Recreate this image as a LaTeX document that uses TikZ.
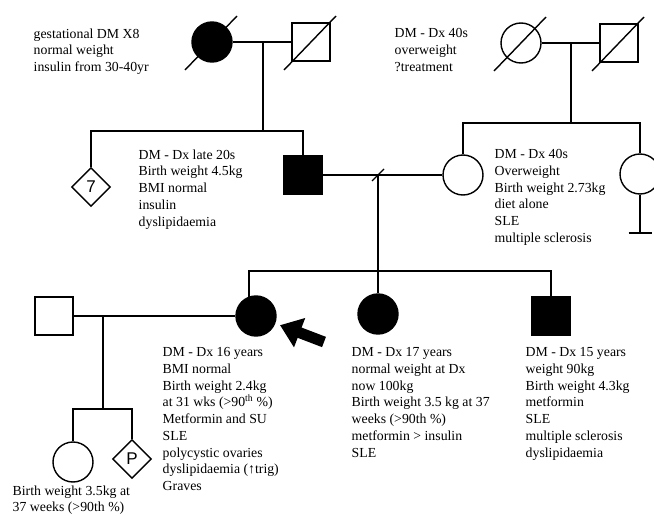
\documentclass[tikz,border=0pt]{standalone}
\usepackage{fontspec}
\setmainfont{Liberation Serif}
\newfontfamily\arialfont{Liberation Sans}
\usetikzlibrary{arrows.meta,shapes.geometric}

% slash through a deceased person
\newcommand\deadslash[1]{\draw ([shift={(-27,28)}]#1.center) -- ([shift={(25,-26)}]#1.center);}

\begin{document}
\begin{tikzpicture}[
    x=1pt, y=-1pt, line width=1.4pt,
    fem/.style={circle, draw, minimum size=40pt, inner sep=0pt},
    mal/.style={rectangle, draw, minimum size=38pt, inner sep=0pt},
    unk/.style={diamond, draw, minimum size=39pt, inner sep=0pt, font=\arialfont\fontsize{17}{17}\selectfont},
    aff/.style={fill=black},
    info/.style={anchor=north west, align=left, inner sep=0pt, font=\fontsize{13.8}{16.7}\selectfont},
    probarrow/.style={line width=11pt, -{Triangle[length=21pt, width=30pt]}}
]
\useasboundingbox (0,0) rectangle (654,516);

% grandparents
\node[fem, aff] (pgm) at (212,42) {};
\node[mal] (pgf) at (311,42) {};
\node[fem] (mgm) at (521,43) {};
\node[mal] (mgf) at (619,43) {};
\deadslash{pgm}
\deadslash{pgf}
\deadslash{mgm}
\deadslash{mgf}
\draw (pgm) -- (pgf);
\draw (mgm) -- (mgf);
\coordinate (pc) at (263,42);
\coordinate (ps) at (263,131);
\draw (pc) -- (ps);
\coordinate (mc) at (571,43);
\coordinate (ms) at (571,123);
\draw (mc) -- (ms);

% parents
\node[unk] (psib) at (91,187) {7};
\node[mal, aff] (fa) at (303,175) {};
\node[fem] (mo) at (463,175) {};
\node[fem] (aunt) at (640,174) {};
\draw (psib.north) |- (ps) -| (fa.north);
\draw (mo.north) |- (ms) -| (aunt.north);
\draw (fa) -- (mo);
\coordinate (nokids) at (640,233);
\draw (aunt.south) -- (nokids);
\draw ([xshift=-11.5pt]nokids) -- ([xshift=11.5pt]nokids);
\coordinate (fc) at (378,175);
\coordinate (fs) at (378,271);
\draw ([shift={(-6,6)}]fc) -- ([shift={(6,-6)}]fc);
\draw (fc) -- (fs);

% proband and siblings
\node[fem, aff] (pb) at (256,316) {};
\node[fem, aff] (sis) at (378,314) {};
\node[mal, aff] (bro) at (551,316) {};
\node[mal] (hus) at (54,316) {};
\draw (pb.110) |- (fs) -| (bro.north);
\draw (fs) -- (sis);
\draw (hus) -- (pb);
\coordinate (hc) at (103,316);
\coordinate (hs) at (103,409);
\draw (hc) -- (hs);
\coordinate (ptail) at (324,342);
\draw[probarrow, shorten >=5pt] (ptail) -- (pb);

% children
\node[fem] (dau) at (73,462) {};
\node[unk] (preg) at (132,459) {P};
\draw (dau.north) |- (hs) -| (preg.north);

% notes
\node[info] (npgm) at (33,28) {gestational DM X8\\normal weight\\insulin from 30-40yr};
\node[info] (nmgm) at (394,28) {DM - Dx 40s\\overweight\\?treatment};
\node[info] (nfa) at (138,149) {DM - Dx late 20s\\Birth weight 4.5kg\\BMI normal\\insulin\\dyslipidaemia};
\node[info] (nmo) at (494,149) {DM - Dx 40s\\Overweight\\Birth weight 2.73kg\\diet alone\\SLE\\multiple sclerosis};
\node[info] (npb) at (162,347) {DM - Dx 16 years\\BMI normal\\Birth weight 2.4kg\\at 31 wks (>90\textsuperscript{th} \%)\\Metformin and SU\\SLE\\polycystic ovaries\\dyslipidaemia (↑trig)\\Graves};
\node[info] (nsis) at (351,347) {DM - Dx 17 years\\normal weight at Dx\\now 100kg\\Birth weight 3.5 kg at 37\\weeks (>90th \%)\\metformin > insulin\\SLE};
\node[info] (nbro) at (525,347) {DM - Dx 15 years\\weight 90kg\\Birth weight 4.3kg\\metformin\\SLE\\multiple sclerosis\\dyslipidaemia};
\node[info] (ndau) at (12,485) {Birth weight 3.5kg at\\37 weeks (>90th \%)};
\end{tikzpicture}
\end{document}
